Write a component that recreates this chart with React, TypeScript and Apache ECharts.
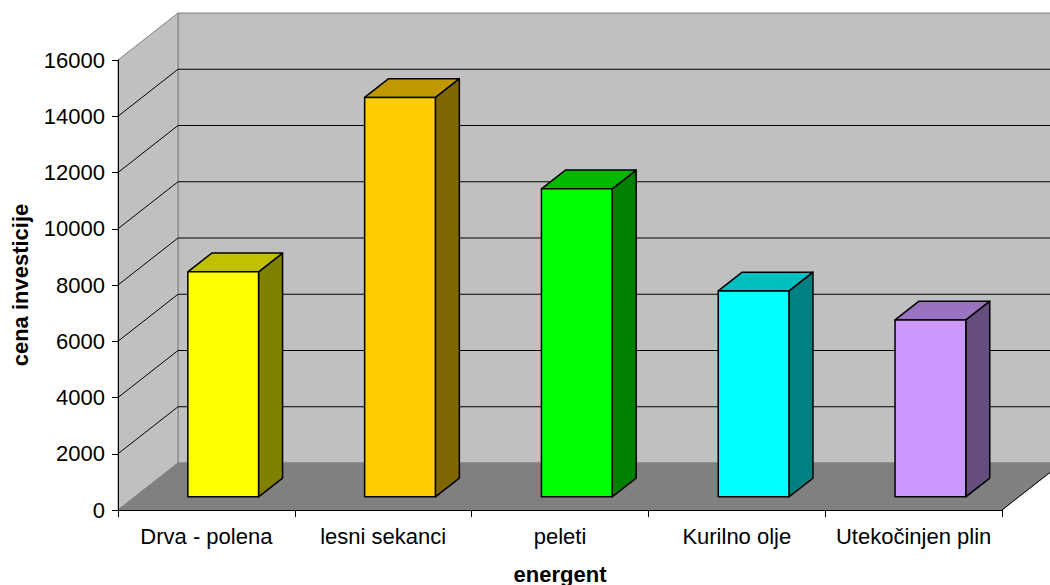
import React, { useEffect, useRef } from "react";
import * as echarts from "echarts";

const categories = ["Drva - polena", "lesni sekanci", "peleti", "Kurilno olje", "Utekočinjen plin"];
const values = [8000, 14200, 10950, 7320, 6290];
const frontColors = ["#FFFF00", "#FFCC00", "#00FF00", "#00FFFF", "#CC99FF"];
const topColors = ["#C0C000", "#C09900", "#00B800", "#00C0C0", "#9973C0"];
const sideColors = ["#808000", "#806600", "#008000", "#008080", "#664D80"];
const yMin = 0;
const yMax = 16000;
const yInterval = 2000;
const yTicks = [0, 2000, 4000, 6000, 8000, 10000, 12000, 14000, 16000];

const DX = 60;
const DY = -47;
const F0 = 0.28;
const F1 = 0.68;
const BAR_FRAC = 0.4;
const FONT = "'Liberation Sans', Arial, sans-serif";

export default function App() {
  const ref = useRef<HTMLDivElement>(null);
  useEffect(() => {
    if (!ref.current) return;
    const chart = echarts.init(ref.current, undefined, { renderer: "svg" });
    const option: any = {
      animation: false,
      backgroundColor: "#ffffff",
      grid: { left: 118, right: 48, top: 60, bottom: 75, containLabel: false, outerBoundsMode: "none" },
      xAxis: {
        type: "category",
        data: categories,
        z: 10,
        axisLine: { show: true, lineStyle: { color: "#000", width: 1 } },
        axisTick: { show: true, length: 7, lineStyle: { color: "#000" } },
        axisLabel: { interval: 0, fontSize: 22, color: "#000", fontFamily: FONT, margin: 15 },
        splitLine: { show: false },
        name: "energent",
        nameLocation: "middle",
        nameGap: 53,
        nameTextStyle: { fontSize: 22, fontWeight: "bold", color: "#000", fontFamily: FONT },
      },
      yAxis: {
        type: "value",
        min: yMin,
        max: yMax,
        interval: yInterval,
        z: 10,
        axisLine: { show: true, lineStyle: { color: "#000", width: 1 } },
        axisTick: { show: true, length: 6, lineStyle: { color: "#000" } },
        axisLabel: {
          fontSize: 22,
          color: "#000",
          fontFamily: FONT,
          margin: 13,
          formatter: (v: number) => String(v),
        },
        splitLine: { show: false },
        name: "cena investicije",
        nameLocation: "middle",
        nameGap: 87,
        nameTextStyle: { fontSize: 22, fontWeight: "bold", color: "#000", fontFamily: FONT },
      },
      series: [
        {
          type: "custom",
          z: 1,
          silent: true,
          data: [[0, 0]],
          renderItem: (params: any, api: any) => {
            const band = api.size([1, 0])[0];
            const n = categories.length;
            const xl = api.coord([0, 0])[0] - band / 2;
            const xr = api.coord([n - 1, 0])[0] + band / 2;
            const y0 = api.coord([0, yMin])[1];
            const yT = api.coord([0, yMax])[1];
            const children: any[] = [];
            children.push({
              type: "polygon",
              shape: { points: [[xl + DX, yT + DY], [xr + DX, yT + DY], [xr + DX, y0 + DY], [xl + DX, y0 + DY]] },
              style: { fill: "#C0C0C0", stroke: "#808080", lineWidth: 1 },
            });
            children.push({
              type: "polygon",
              shape: { points: [[xl, y0], [xl, yT], [xl + DX, yT + DY], [xl + DX, y0 + DY]] },
              style: { fill: "#C0C0C0", stroke: "#808080", lineWidth: 1 },
            });
            children.push({
              type: "polygon",
              shape: { points: [[xl, y0], [xr, y0], [xr + DX, y0 + DY], [xl + DX, y0 + DY]] },
              style: { fill: "#808080", stroke: "#808080", lineWidth: 1 },
            });
            children.push({
              type: "line",
              shape: { x1: xr, y1: y0, x2: xr + DX, y2: y0 + DY },
              style: { stroke: "#000", lineWidth: 1 },
            });
            yTicks.forEach((v) => {
              if (v <= yMin || v >= yMax) return;
              const y = api.coord([0, v])[1];
              children.push({
                type: "polyline",
                shape: { points: [[xl, y], [xl + DX, y + DY], [xr + DX, y + DY]] },
                style: { stroke: "#000", lineWidth: 1, fill: null },
              });
            });
            return { type: "group", children };
          },
        },
        {
          type: "custom",
          z: 2,
          data: values.map((v, i) => [i, v]),
          renderItem: (params: any, api: any) => {
            const i = api.value(0);
            const v = api.value(1);
            const idx = params.dataIndex;
            const band = api.size([1, 0])[0];
            const c = api.coord([i, v]);
            const b = api.coord([i, 0]);
            const w = band * BAR_FRAC;
            const fx = c[0] - w / 2 + F0 * DX;
            const fyT = c[1] + F0 * DY;
            const fyB = b[1] + F0 * DY;
            const ddx = (F1 - F0) * DX;
            const ddy = (F1 - F0) * DY;
            const st = { stroke: "#000", lineWidth: 1.5, lineJoin: "round" };
            return {
              type: "group",
              children: [
                {
                  type: "polygon",
                  shape: { points: [[fx + w, fyT], [fx + w + ddx, fyT + ddy], [fx + w + ddx, fyB + ddy], [fx + w, fyB]] },
                  style: { ...st, fill: sideColors[idx] },
                },
                {
                  type: "polygon",
                  shape: { points: [[fx, fyT], [fx + ddx, fyT + ddy], [fx + w + ddx, fyT + ddy], [fx + w, fyT]] },
                  style: { ...st, fill: topColors[idx] },
                },
                {
                  type: "polygon",
                  shape: { points: [[fx, fyT], [fx + w, fyT], [fx + w, fyB], [fx, fyB]] },
                  style: { ...st, fill: frontColors[idx] },
                },
              ],
            };
          },
        },
      ],
    };
    chart.setOption(option);
    return () => chart.dispose();
  }, []);
  return (
    <div
      ref={ref}
      style={{ position: "fixed", left: 0, top: 0, width: 1050, height: 585, background: "#fff" }}
    />
  );
}
